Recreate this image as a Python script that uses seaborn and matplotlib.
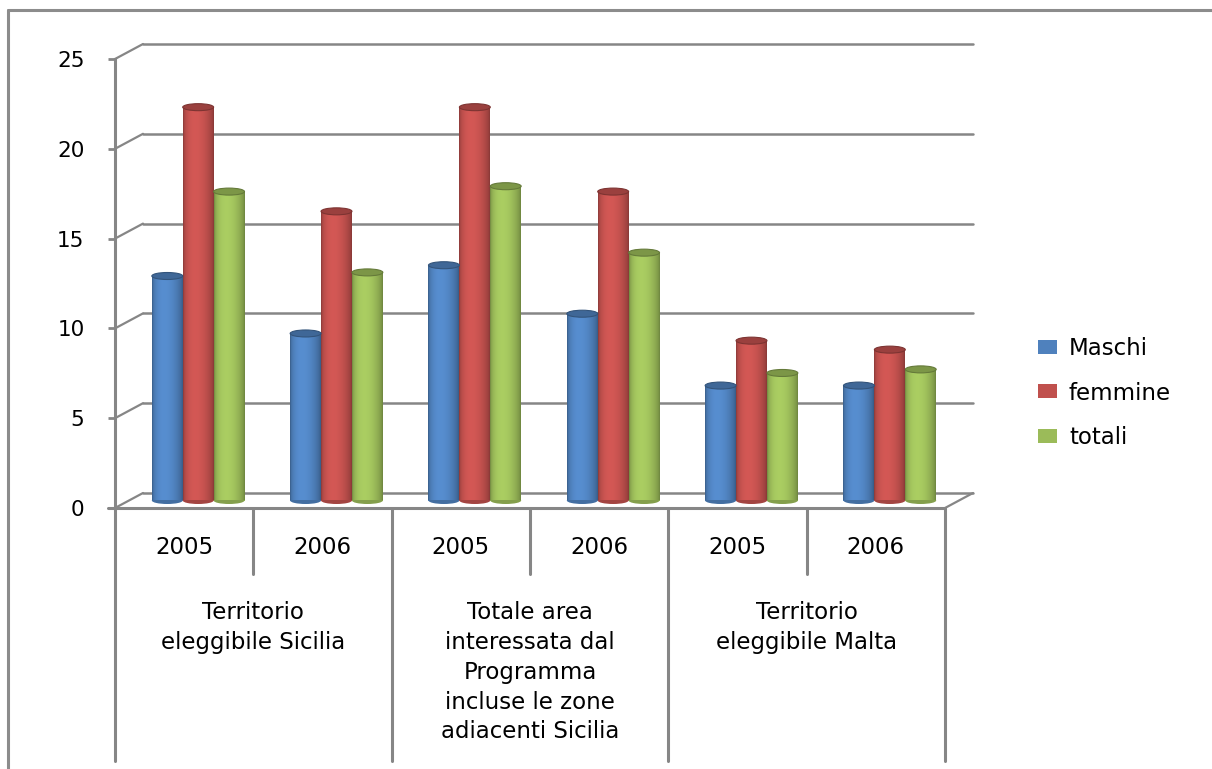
import numpy as np
import pandas as pd
import matplotlib
matplotlib.use("Agg")
import matplotlib.pyplot as plt
import seaborn as sns
from matplotlib.patches import Ellipse
from matplotlib.lines import Line2D
from matplotlib import transforms as mtrans
from matplotlib.colors import to_rgb

# ---- data -------------------------------------------------------------
years = ["2005", "2006", "2005", "2006", "2005", "2006"]
slot_area = [0, 0, 1, 1, 2, 2]
areas = [
    "Territorio\neleggibile Sicilia",
    "Totale area\ninteressata dal\nProgramma\nincluse le zone\nadiacenti Sicilia",
    "Territorio\neleggibile Malta",
]
series = ["Maschi", "femmine", "totali"]
maschi = [12.5, 9.3, 13.1, 10.4, 6.4, 6.4]
femmine = [21.9, 16.1, 21.9, 17.2, 8.9, 8.4]
totali = [17.2, 12.7, 17.5, 13.8, 7.1, 7.3]
colors = ["#4F81BD", "#C0504D", "#9BBB59"]
yticks = [0, 5, 10, 15, 20, 25]

slots = [f"{a}|{y}" for a, y in zip(slot_area, years)]
df = pd.DataFrame({
    "slot": slots * 3,
    "serie": np.repeat(series, len(slots)),
    "valore": maschi + femmine + totali,
})

# ---- figure / axes ----------------------------------------------------
W, H = 1212, 769
sns.set_style("white")
plt.rcParams["font.family"] = ["DejaVu Sans"]
plt.rcParams["text.color"] = "black"
fig = plt.figure(figsize=(W / 100, H / 100), dpi=100)
ax = fig.add_axes([115 / W, 1 - 508 / H, 830 / W, 449 / H])

sns.barplot(data=df, x="slot", y="valore", hue="serie", order=slots,
            hue_order=series, palette=colors, width=0.67, saturation=1,
            errorbar=None, linewidth=0, ax=ax)

grey = "#868686"
ux = 6 / 830          # data units per pixel along x
uy = 25 / 449         # data units per pixel along y
dx, dy = 28 * ux, 15 * uy   # depth of the back wall

# bars sit half way between front and back wall
off_bar = mtrans.ScaledTranslation(14 / 100, 7.5 / 100, fig.dpi_scale_trans)
tr_bar = ax.transData + off_bar

t = np.linspace(0, 1, 64)
shade = 0.70 + 0.40 * np.sin(np.pi * np.clip(t, 0, 1) ** 0.75) ** 0.6
shade = np.clip(shade, 0, 1.12)

for cont, col in zip(ax.containers, colors):
    base = np.array(to_rgb(col))
    for p in cont.patches:
        x0, w, h = p.get_x(), p.get_width(), p.get_height()
        p.set_transform(tr_bar)
        p.set_zorder(2)
        grad = np.clip(base[None, None, :] * shade[None, :, None], 0, 1)
        im = ax.imshow(grad, extent=[x0, x0 + w, 0, h], origin="lower",
                       aspect="auto", interpolation="bilinear",
                       transform=tr_bar, zorder=2.2)
        im.set_clip_path(p)
        ax.add_patch(Ellipse((x0 + w / 2, 0), w, 7 * uy, transform=tr_bar,
                             facecolor=base * 0.85, edgecolor="none", zorder=2.1))
        ax.add_patch(Ellipse((x0 + w / 2, h), w, 7 * uy, transform=tr_bar,
                             facecolor=np.clip(base * 0.80, 0, 1),
                             edgecolor=np.clip(base * 0.65, 0, 1), lw=0.8,
                             zorder=2.4))

# back wall gridlines and the diagonal links from the front axis
for v in yticks:
    ax.plot([-0.5 + dx, 5.5 + dx], [v + dy, v + dy], color=grey, lw=1.8,
            zorder=0.5, clip_on=False)
    ax.plot([-0.5, -0.5 + dx], [v, v + dy], color=grey, lw=1.6,
            zorder=0.5, clip_on=False)
ax.plot([5.5, 5.5 + dx], [0, dy], color=grey, lw=1.6, zorder=0.5, clip_on=False)
ax.plot([-0.5 - 7 * ux, 5.5], [0, 0], color=grey, lw=2.2, zorder=4, clip_on=False)

# category axis table below the floor
bt = mtrans.blended_transform_factory(ax.transData, fig.transFigure)
for x in [-0.5, 1.5, 3.5, 5.5]:
    ax.plot([x, x], [1 - 508 / H, 1 - 761 / H], color=grey, lw=2.2,
            transform=bt, clip_on=False)
for x in [0.5, 2.5, 4.5]:
    ax.plot([x, x], [1 - 508 / H, 1 - 574 / H], color=grey, lw=2.2,
            transform=bt, clip_on=False)
for i, y in enumerate(years):
    ax.text(i, 1 - 548 / H, y, transform=bt, ha="center", va="center",
            fontsize=16.5, color="black")
for g, lab in enumerate(areas):
    ax.text(2 * g + 0.5, 1 - 601 / H, lab, transform=bt, ha="center", va="top",
            fontsize=16.5, linespacing=1.38, color="black")

# value axis
ax.set_xlim(-0.5, 5.5)
ax.set_ylim(0, 25)
ax.set_yticks(yticks)
ax.set_yticklabels([str(v) for v in yticks])
ax.set_xticks([])
ax.set_xlabel("")
ax.set_ylabel("")
for s in ["top", "right", "bottom"]:
    ax.spines[s].set_visible(False)
ax.spines["left"].set_color(grey)
ax.spines["left"].set_linewidth(2.2)
ax.tick_params(axis="y", length=5, width=2.0, color=grey, pad=17,
               labelsize=15.5, labelcolor="black", left=True)
ax.patch.set_alpha(0)

handles, labels = ax.get_legend_handles_labels()
leg = ax.legend(handles, labels, loc="center left",
                bbox_to_anchor=(1038 / W, 1 - 393 / H),
                bbox_transform=fig.transFigure, frameon=False, fontsize=16.5,
                handlelength=0.85, handleheight=0.55, handletextpad=0.5,
                labelspacing=0.93, borderpad=0, borderaxespad=0)
for txt in leg.get_texts():
    txt.set_color("black")

# outer frame (top and left edges)
fig.add_artist(Line2D([8 / W, 1], [1 - 10 / H, 1 - 10 / H], color="#8c8c8c",
                      lw=2.2, transform=fig.transFigure))
fig.add_artist(Line2D([8 / W, 8 / W], [0, 1 - 10 / H], color="#8c8c8c",
                      lw=2.2, transform=fig.transFigure))

fig.savefig("out.png", dpi=100)
